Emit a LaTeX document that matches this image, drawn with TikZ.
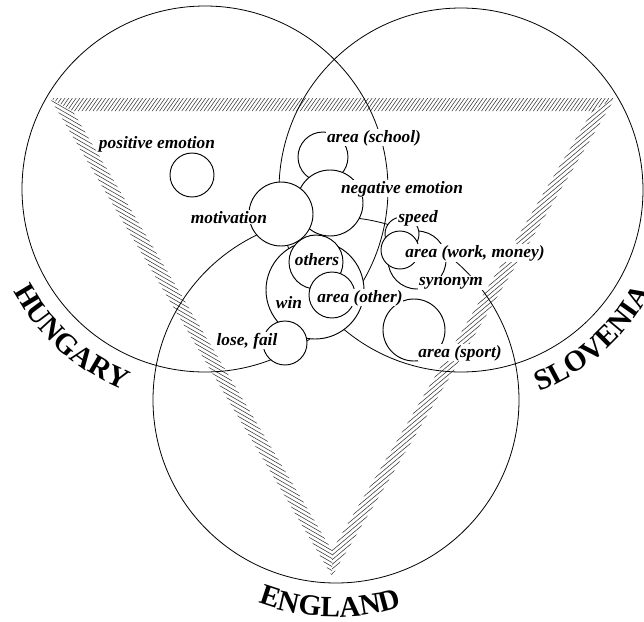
\documentclass[tikz,border=0pt]{standalone}
\usepackage{fontspec}
\setmainfont{Liberation Serif}
\usetikzlibrary{decorations.text}
\newcommand\lblfont{\fontsize{13}{15}\selectfont\bfseries\itshape}
\newcommand\ctryfont{\fontsize{22}{26}\selectfont\bfseries}
\tikzset{
  big/.style={circle, draw, line width=0.6pt, inner sep=0pt, minimum size=#1},
  bub/.style={circle, draw, fill=white, line width=0.7pt, inner sep=0pt, minimum size=#1},
  lbl/.style={fill=white, inner sep=0.6pt, font=\lblfont, anchor=base},
  hatch/.style={line width=0.4pt, black!80},
  ctry/.style={decorate, decoration={text along path, text align=center, text={|\ctryfont|#1}}}
}
\begin{document}
\begin{tikzpicture}[x=0.75pt,y=-0.75pt]
\useasboundingbox (0,0) rectangle (644,622);
% hatched triangle band
\begin{scope}
  \clip (50,98) -- (615,98) -- (592.2,111) -- (72.7,111) -- cycle;
  \foreach \i in {0,...,170} \draw[hatch] ({40+3.7*\i},118) -- ++(14,-20);
\end{scope}
\begin{scope}
  \clip (50,98) -- (72.7,111) -- (332,550.5) -- (332,576) -- cycle;
  \foreach \i in {0,...,90} \draw[hatch] (40,{50+4.0*\i}) -- ++(320,184.7);
\end{scope}
\begin{scope}
  \clip (615,98) -- (592.2,111) -- (332,550.5) -- (332,576) -- cycle;
  \foreach \i in {0,...,60} \draw[hatch] (300,{590+4.6*\i-251.7}) -- ++(340,-285.3);
\end{scope}
% big circles
\node[big=274.5pt] (hun) at (205,189) {};
\node[big=273pt] (slo) at (461,190) {};
\node[big=274.5pt] (eng) at (336,400) {};
% bubbles
\node[bub=37.5pt] (school) at (323,157) {};
\node[bub=49.5pt] (negemo) at (330,203) {};
\node[bub=73.5pt] (win) at (315,290) {};
\node[bub=40.5pt] (others) at (316,262) {};
\node[bub=34.5pt] (other) at (332,295) {};
\node[bub=48pt] (motiv) at (281,214) {};
\node[bub=33pt] (lose) at (285,343) {};
\node[bub=33pt] (posemo) at (192,175) {};
\node[bub=43.5pt] (syn) at (417,260) {};
\node[bub=25.5pt] (speed) at (402,234) {};
\node[bub=28.5pt] (work) at (400,250) {};
\node[bub=46.5pt] (sport) at (414,330) {};
% labels
\node[lbl] (lposemo) at (157,148) {positive emotion};
\node[lbl] (lschool) at (374,142) {area (school)};
\node[lbl] (lnegemo) at (402,193) {negative emotion};
\node[lbl] (lmotiv) at (229,223) {motivation};
\node[lbl] (lspeed) at (418,222) {speed};
\node[lbl] (lothers) at (317,265) {others};
\node[lbl] (lwork) at (475,257) {area (work, money)};
\node[lbl] (lsyn) at (451,285) {synonym};
\node[lbl] (lwin) at (289,308) {win};
\node[lbl] (lother) at (360,302) {area (other)};
\node[lbl] (llose) at (247,345) {lose, fail};
\node[lbl] (lsport) at (460,357) {area (sport)};
% country names
\path[ctry=HUNGARY] (-4.6,245.2) arc[start angle=165, end angle=99, radius=217];
\path[ctry=SLOVENIA] (492.9,403.6) arc[start angle=81.5, end angle=15.5, radius=216];
\path[ctry=ENGLAND] (212.8,578.9) arc[start angle=124.4, end angle=58.4, radius=217];
\end{tikzpicture}
\end{document}
